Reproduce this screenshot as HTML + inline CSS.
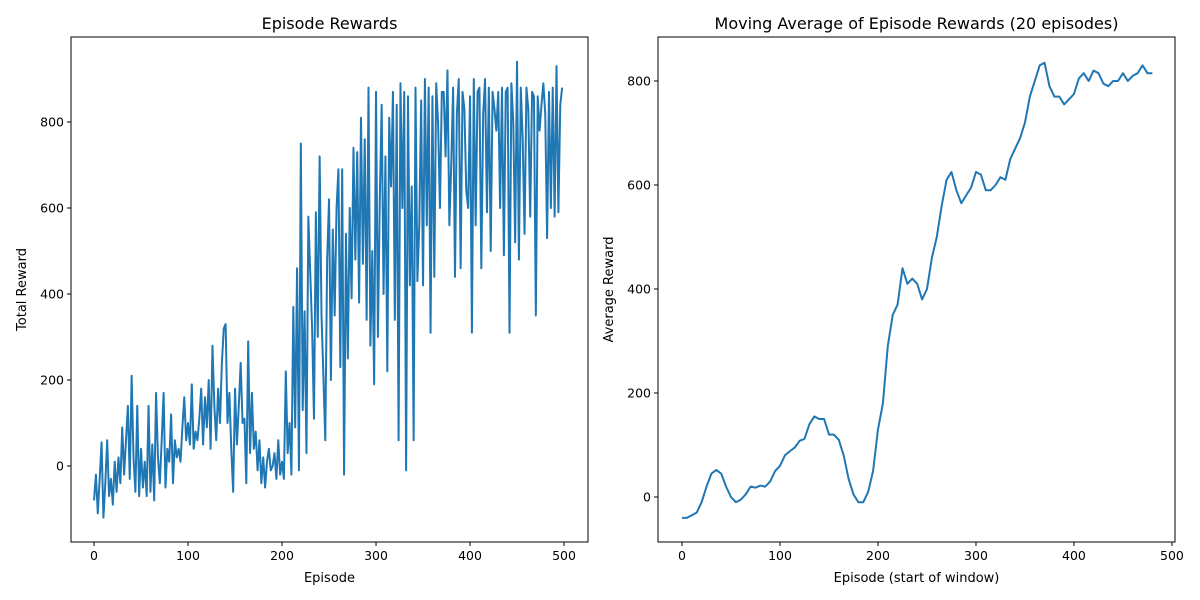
<!DOCTYPE html>
<html><head><meta charset="utf-8"><style>
html,body{margin:0;padding:0;background:#fff;}
svg{display:block;font-family:"DejaVu Sans","Liberation Sans",sans-serif;}
</style></head><body>
<svg id="c" width="1200" height="600" viewBox="0 0 1200 600"></svg>
<script>
// Episode rewards, sampled every 2 episodes
const rewardEpisodes = [];
const rewards = [
-80,-20,-110,-30,55,-120,-40,60,-70,-30,
-90,10,-60,20,-40,90,-20,60,140,-30,
210,20,-60,140,-70,40,-50,10,-70,140,
-60,50,-80,170,20,-40,60,170,-50,40,
10,120,-40,60,20,40,10,90,160,60,
100,50,190,40,80,60,110,180,50,160,
90,200,40,280,140,60,180,100,240,320,
330,100,170,40,-60,180,50,140,240,100,
110,-40,290,30,170,40,80,-10,60,-40,
20,-50,10,40,-10,0,30,-30,60,-20,
10,-30,220,30,100,-20,370,90,460,-10,
750,130,360,30,580,450,320,110,590,300,
720,350,210,60,480,620,200,550,350,600,
690,230,690,-20,540,250,600,390,740,480,
730,380,810,470,760,340,880,280,500,190,
870,300,620,840,400,720,220,810,650,870,
340,840,60,890,600,870,-10,860,420,650,
60,880,430,560,850,420,900,560,880,310,
860,440,890,800,600,870,870,720,920,560,
700,880,440,820,900,460,870,830,640,600,
860,310,900,560,870,880,460,820,900,590,
880,500,870,830,780,870,600,880,490,870,
880,310,890,800,520,940,480,880,760,540,
880,830,580,870,860,350,860,780,840,890,
820,530,870,600,880,580,930,590,840,880];
for (let i = 0; i < rewards.length; i++) rewardEpisodes.push(i * 2);

// Moving average, sampled every 5 episodes
const maEpisodes = [];
const maValues = [-40,-40,-35,-30,-10,20,45,52,45,20,0,-10,-5,5,20,18,22,20,30,50,
60,80,88,95,108,112,140,155,150,150,120,120,110,80,35,5,-10,-10,10,50,
130,180,290,350,370,440,410,420,410,380,400,460,500,560,610,625,590,565,580,595,
625,620,590,590,600,615,610,650,670,690,720,770,800,830,835,790,770,770,755,765,
775,805,815,800,820,815,795,790,800,800,815,800,810,815,830,815,815];
for (let i = 0; i < maValues.length; i++) maEpisodes.push(i * 5);

const xTicks = [0,100,200,300,400,500];
const leftYTicks = [0,200,400,600,800];
const rightYTicks = [0,200,400,600,800];

const NS = "http://www.w3.org/2000/svg";
const svg = document.getElementById("c");
function mk(tag, attrs, parent) {
  const e = document.createElementNS(NS, tag);
  for (const k in attrs) e.setAttribute(k, attrs[k]);
  (parent || svg).appendChild(e);
  return e;
}

function panel(cfg) {
  const g = mk("g", {});
  
  
  const sx = v => cfg.x0 + (v - cfg.xmin) / (cfg.xmax - cfg.xmin) * (cfg.x1 - cfg.x0);
  const sy = v => cfg.y1 - (v - cfg.ymin) / (cfg.ymax - cfg.ymin) * (cfg.y1 - cfg.y0);
  let d = "";
  for (let i = 0; i < cfg.xs.length; i++) d += (i ? "L" : "M") + sx(cfg.xs[i]).toFixed(2) + "," + sy(cfg.ys[i]).toFixed(2);
  const line = mk("path", {d: d, fill: "none", stroke: "#1f77b4", "stroke-width": 2, "stroke-linejoin": "round"}, g);
  
  
  const frame = mk("rect", {x: cfg.x0, y: cfg.y0, width: cfg.x1 - cfg.x0, height: cfg.y1 - cfg.y0, fill: "none", stroke: "#000", "stroke-width": 1}, g);
  
  
  for (const t of cfg.xt) {
    const x = sx(t);
    mk("line", {x1: x, x2: x, y1: cfg.y1, y2: cfg.y1 + 4, stroke: "#000"}, g);
    const tx = mk("text", {x: x, y: cfg.y1 + 18, "text-anchor": "middle", "font-size": 12.5}, g);
    tx.textContent = t;
    
    
  }
  for (const t of cfg.yt) {
    const y = sy(t);
    mk("line", {x1: cfg.x0 - 4, x2: cfg.x0, y1: y, y2: y, stroke: "#000"}, g);
    const ty = mk("text", {x: cfg.x0 - 7, y: y + 4.5, "text-anchor": "end", "font-size": 12.5}, g);
    ty.textContent = t;
    
    
  }
  const tt = mk("text", {x: (cfg.x0 + cfg.x1) / 2, y: cfg.y0 - 8, "text-anchor": "middle", "font-size": 16}, g);
  tt.textContent = cfg.title;
  
  
  const xl = mk("text", {x: (cfg.x0 + cfg.x1) / 2, y: cfg.y1 + 40, "text-anchor": "middle", "font-size": 13}, g);
  xl.textContent = cfg.xlabel;
  
  
  const yx = cfg.ylabelX, yy = (cfg.y0 + cfg.y1) / 2;
  const yl = mk("text", {x: yx, y: yy, "text-anchor": "middle", "font-size": 13, transform: "rotate(-90 " + yx + " " + yy + ")"}, g);
  yl.textContent = cfg.ylabel;
  
  
}

panel({name: "episode-rewards-chart", x0: 71, x1: 588, y0: 37, y1: 542,
  xmin: -24.5, xmax: 525.5, ymin: -176.7, ymax: 997.7,
  xs: rewardEpisodes, ys: rewards, xt: xTicks, yt: leftYTicks,
  title: "Episode Rewards", xlabel: "Episode", ylabel: "Total Reward", ylabelX: 26});
panel({name: "moving-average-chart", x0: 658, x1: 1175, y0: 37, y1: 542,
  xmin: -24.5, xmax: 503.1, ymin: -86.5, ymax: 884.6,
  xs: maEpisodes, ys: maValues, xt: xTicks, yt: rightYTicks,
  title: "Moving Average of Episode Rewards (20 episodes)", xlabel: "Episode (start of window)", ylabel: "Average Reward", ylabelX: 613});
</script>
</body></html>
